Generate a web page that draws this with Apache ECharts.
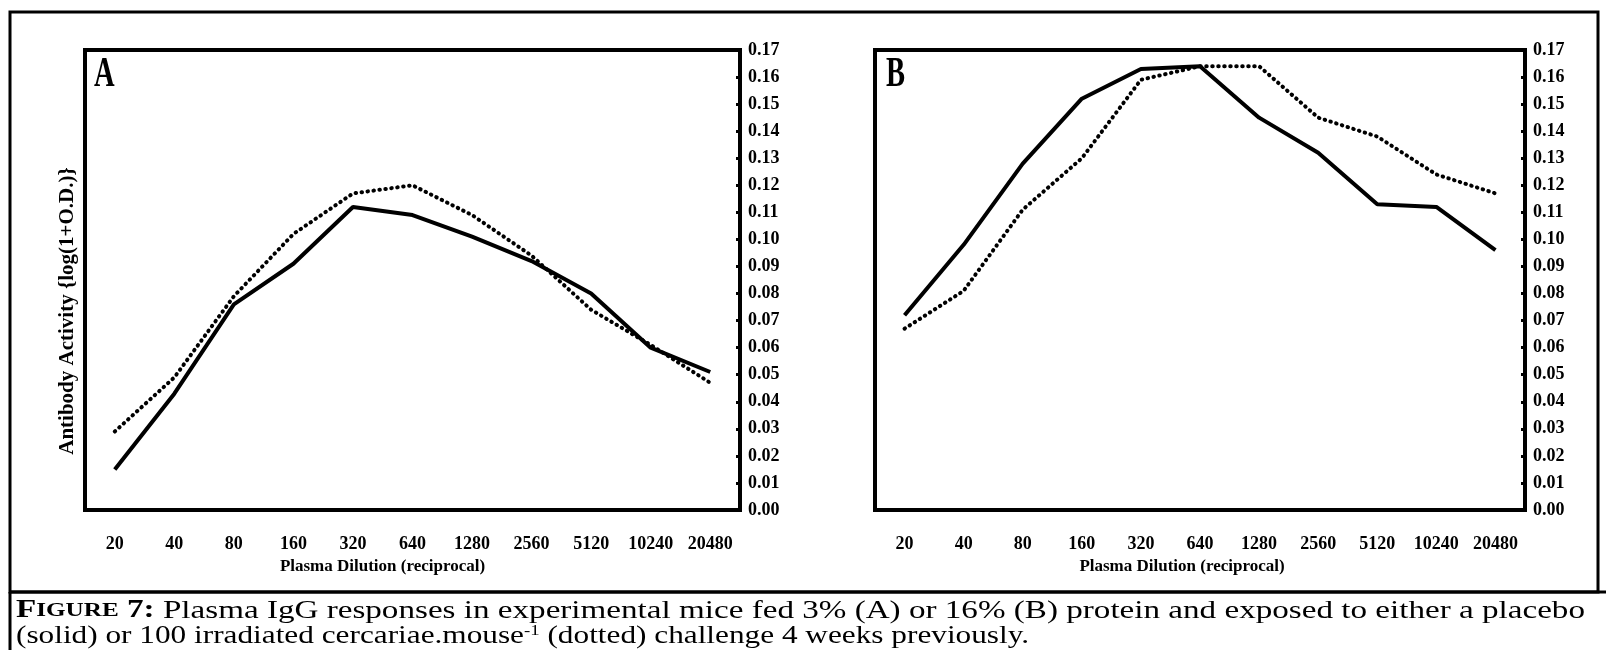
<!DOCTYPE html>
<html>
<head>
<meta charset="utf-8">
<script src="https://cdn.jsdelivr.net/npm/echarts@6/dist/echarts.min.js"></script>
<style>
  html, body { margin: 0; padding: 0; background: #fff; }
  #box1 { width: 1606px; height: 650px; }
</style>
</head>
<body>
<div id="box1"></div>
<script>
var dilutions = ['20', '40', '80', '160', '320', '640', '1280', '2560', '5120', '10240', '20480'];
// panel A, 3% protein
var solidA = [0.015, 0.043, 0.076, 0.091, 0.112, 0.109, 0.101, 0.092, 0.080, 0.060, 0.051];
var dottedA = [0.029, 0.049, 0.079, 0.102, 0.117, 0.120, 0.109, 0.094, 0.074, 0.061, 0.047];
// panel B, 16% protein
var solidB = [0.072, 0.098, 0.128, 0.152, 0.163, 0.164, 0.145, 0.132, 0.113, 0.112, 0.096];
var dottedB = [0.067, 0.081, 0.111, 0.130, 0.159, 0.164, 0.164, 0.145, 0.138, 0.124, 0.117];

window.onload = function () {
    var myChart = echarts.init(document.getElementById('box1'));
    var font = 'Liberation Serif';

    // shift: how far the axis title sits left of the plot centre (x2)
    function xAx(i, shift) {
        return {
            type: 'category',
            gridIndex: i,
            data: dilutions,
            boundaryGap: true,
            name: 'Plasma Dilution (reciprocal)',
            nameLocation: 'middle',
            nameGap: 37,
            nameTextStyle: { fontFamily: font, fontWeight: 'bold', fontSize: 17, color: '#000', padding: [0, shift, 0, 0] },
            axisLine: { lineStyle: { color: '#000', width: 4 } },
            axisTick: { alignWithLabel: true, length: 8, lineStyle: { color: '#000', width: 3 } },
            axisLabel: { fontFamily: font, fontWeight: 'bold', fontSize: 18, color: '#000', margin: 25 },
            splitLine: { show: false }
        };
    }
    function yAx(i) {
        return {
            type: 'value',
            gridIndex: i,
            position: 'right',
            min: 0,
            max: 0.17,
            interval: 0.01,
            axisLine: { show: true, lineStyle: { color: '#000', width: 4 } },
            axisTick: { show: true, inside: true, length: 4, lineStyle: { color: '#000', width: 3 } },
            axisLabel: {
                fontFamily: font, fontWeight: 'bold', fontSize: 18, color: '#000', margin: 8,
                formatter: function (v) { return v.toFixed(2); }
            },
            splitLine: { show: false }
        };
    }
    function ser(i, data, dotted) {
        return {
            type: 'line',
            xAxisIndex: i,
            yAxisIndex: i,
            data: data,
            symbol: 'none',
            silent: true,
            lineStyle: dotted
                ? { color: '#000', width: 4, type: [0.5, 5.5], cap: 'round' }
                : { color: '#000', width: 4 }
        };
    }

    var option = {
        animation: false,
        backgroundColor: '#fff',
        grid: [
            { left: 85, right: 866, top: 50, bottom: 140, show: true, borderColor: '#000', borderWidth: 4 },
            { left: 875, right: 81, top: 50, bottom: 140, show: true, borderColor: '#000', borderWidth: 4 }
        ],
        xAxis: [xAx(0, 60), xAx(1, 36)],
        yAxis: [yAx(0), yAx(1)],
        series: [
            ser(0, solidA, false),
            ser(0, dottedA, true),
            ser(1, solidB, false),
            ser(1, dottedB, true)
        ],
        graphic: [
            // frame round the two panels and the caption
            { type: 'rect', shape: { x: 10, y: 12, width: 1588, height: 580 }, style: { fill: null, stroke: '#000', lineWidth: 3 } },
            { type: 'line', shape: { x1: 10, y1: 592, x2: 1606, y2: 592 }, style: { stroke: '#000', lineWidth: 3 } },
            { type: 'line', shape: { x1: 10, y1: 592, x2: 10, y2: 650 }, style: { stroke: '#000', lineWidth: 3 } },
            // panel letters
            { type: 'text', x: 94, y: 75, scaleX: 0.68, style: { text: 'A', font: 'bold 42px "Liberation Serif"', fill: '#000', verticalAlign: 'middle' } },
            { type: 'text', x: 886, y: 75, scaleX: 0.68, style: { text: 'B', font: 'bold 42px "Liberation Serif"', fill: '#000', verticalAlign: 'middle' } },
            // y axis title, left of panel A
            { type: 'text', x: 68, y: 311, rotation: Math.PI / 2, style: { text: 'Antibody Activity {log(1+O.D.)}', font: 'bold 21px "Liberation Serif"', fill: '#000', align: 'center', verticalAlign: 'middle' } },
            // caption
            {
                type: 'text', x: 16, y: 611, scaleX: 1.325,
                style: {
                    text: '{b|F}{bs|IGURE}{b| 7:}{r| Plasma IgG responses in experimental mice fed 3% (A) or 16% (B) protein and exposed to either a placebo}',
                    verticalAlign: 'middle',
                    rich: {
                        b: { fontFamily: font, fontWeight: 'bold', fontSize: 25, color: '#000' },
                        bs: { fontFamily: font, fontWeight: 'bold', fontSize: 19, color: '#000' },
                        r: { fontFamily: font, fontSize: 25, color: '#000' }
                    }
                }
            },
            {
                type: 'text', x: 16, y: 636, scaleX: 1.251,
                style: {
                    text: '{r|(solid) or 100 irradiated cercariae.mouse}{sup|-1}{r| (dotted) challenge 4 weeks previously.}',
                    verticalAlign: 'middle',
                    rich: {
                        r: { fontFamily: font, fontSize: 25, color: '#000', lineHeight: 25 },
                        sup: { fontFamily: font, fontSize: 15, color: '#000', verticalAlign: 'top', lineHeight: 25, padding: [0, 0, 11, 0] }
                    }
                }
            }
        ]
    };
    myChart.setOption(option);
    window.addEventListener('resize', function () {
        myChart.resize();
    });
};
</script>
</body>
</html>
